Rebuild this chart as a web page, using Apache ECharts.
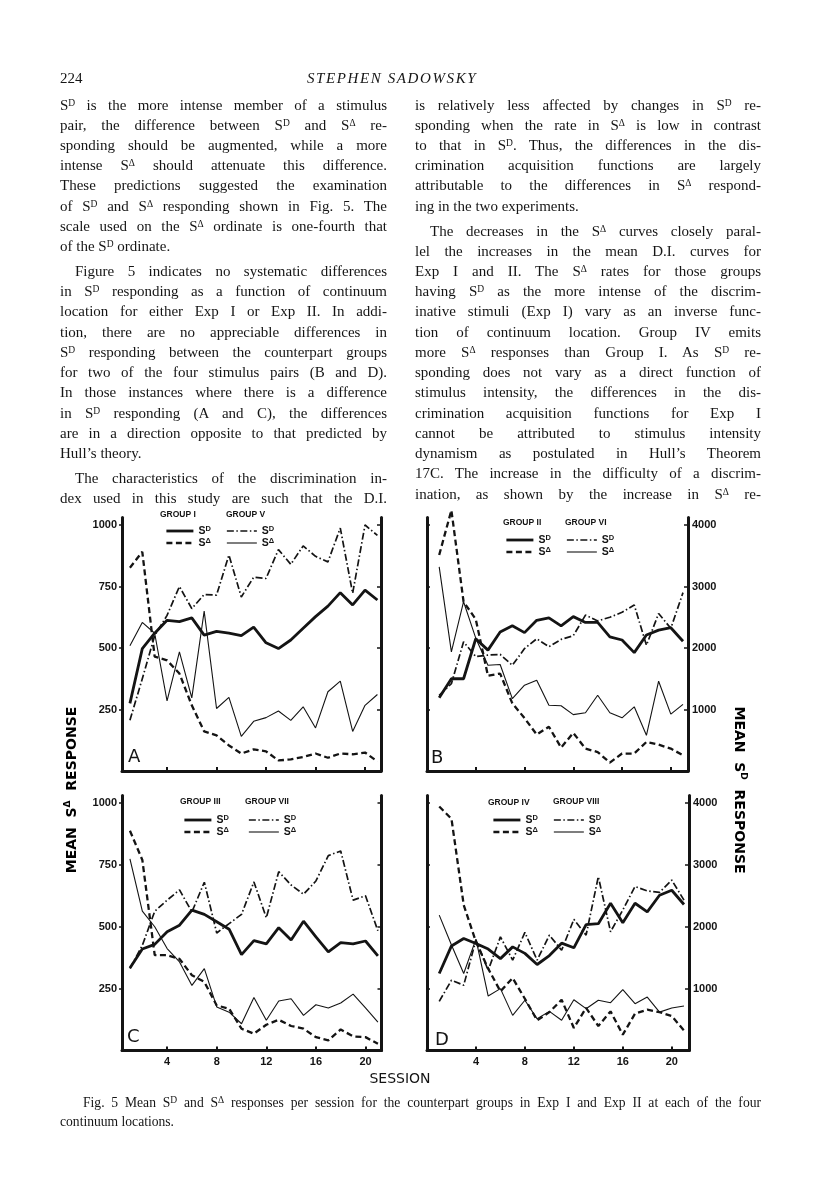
<!DOCTYPE html>
<html><head><meta charset="utf-8">
<script src="https://cdn.jsdelivr.net/npm/echarts@6/dist/echarts.min.js"></script>
<style>
body{margin:0;background:#fff;}
#page{position:relative;width:816px;height:1200px;overflow:hidden;background:#fff;}
#chart{position:absolute;left:0;top:0;width:816px;height:1200px;}
.t{position:absolute;font-family:"Liberation Serif","DejaVu Serif",serif;font-size:15px;line-height:20px;color:#151515;}
.j{text-align:justify;text-align-last:justify;}
.l{text-align:left;white-space:nowrap;}
.t sup{font-size:9.5px;vertical-align:4px;line-height:0;}
</style></head>
<body><div id="page"><div id="chart"></div><div id="txt"></div></div>
<script>
// ---------------- DATA ----------------
const sessions = [1,2,3,4,5,6,7,8,9,10,11,12,13,14,15,16,17,18,19,20,21];
const xTickValues = [4,8,12,16,20];
const sDeltaTicks = [250,500,750,1000];
const sDTicks = [1000,2000,3000,4000];

// Panel A : Group I (Exp I) and Group V (Exp II)
const A_I_SD = [1100,1990,2240,2450,2430,2490,2210,2270,2240,2200,2340,2085,1990,2130,2320,2510,2680,2900,2700,2940,2780];
const A_I_SA = [826,891,465,450,396,267,161,145,104,71,88,80,43,47,57,71,54,71,68,75,39];
const A_V_SD = [825,1500,2200,2530,3000,2640,2870,2860,3510,2830,3150,3130,3600,3360,3660,3490,3400,3950,2890,4000,3830];
const A_V_SA = [509,604,560,285,484,297,650,254,299,141,202,217,244,206,261,175,322,365,161,267,311];

// Panel B : Group II (Exp I) and Group VI (Exp II)
const B_II_SD = [1190,1500,1500,2150,1965,2260,2360,2250,2450,2490,2360,2510,2415,2415,2180,2130,1925,2210,2290,2330,2110];
const B_II_SA = [878,1060,688,617,387,396,275,215,148,180,95,155,91,77,34,71,71,118,107,91,64];
const B_VI_SD = [1230,1420,2100,1860,1885,1895,1720,1990,2150,2020,2140,2200,2535,2440,2500,2580,2700,2045,2560,2320,2900];
const B_VI_SA = [830,484,688,540,430,433,294,349,369,267,265,229,237,308,237,216,261,145,365,231,271];

// Panel C : Group III (Exp I) and Group VII (Exp II)
const C_III_SD = [1335,1640,1715,1920,2025,2270,2200,2080,1960,1550,1775,1725,1985,1785,2090,1835,1595,1745,1725,1770,1530];
const C_III_SA = [888,770,385,385,370,304,277,182,169,88,68,104,124,99,88,54,41,85,57,54,27];
const C_VII_SD = [1325,1700,2250,2430,2595,2240,2720,1900,2050,2200,2725,2145,2890,2675,2525,2740,3150,3225,2430,2500,1935];
const C_VII_SA = [774,563,500,412,358,263,331,176,155,108,214,122,200,209,142,185,172,192,228,172,115];

// Panel D : Group IV (Exp I) and Group VIII (Exp II)
const D_IV_SD = [1245,1690,1810,1730,1640,1485,1675,1570,1390,1535,1735,1660,2035,2050,2380,2065,2380,2240,2510,2590,2360];
const D_IV_SA = [986,936,588,439,331,239,293,209,122,155,205,91,172,99,158,64,149,165,155,139,81];
const D_VIII_SD = [795,1135,1055,1785,1297,1837,1460,1908,1460,1865,1620,2120,1865,2810,1920,2270,2650,2580,2555,2755,2430];
const D_VIII_SA = [547,426,311,450,220,250,142,203,128,158,122,205,169,203,193,246,189,216,155,172,180];

// ---------------- PAGE TEXT ----------------
const leftLines = [
 [105,'j',0,'S{D} is the more intense member of a stimulus'],
 [125,'j',0,'pair, the difference between S{D} and S{A} re-'],
 [145,'j',0,'sponding should be augmented, while a more'],
 [165,'j',0,'intense S{A} should attenuate this difference.'],
 [185,'j',0,'These predictions suggested the examination'],
 [206,'j',0,'of S{D} and S{A} responding shown in Fig. 5. The'],
 [226,'j',0,'scale used on the S{A} ordinate is one-fourth that'],
 [246,'l',0,'of the S{D} ordinate.'],
 [271,'j',15,'Figure 5 indicates no systematic differences'],
 [291,'j',0,'in S{D} responding as a function of continuum'],
 [311,'j',0,'location for either Exp I or Exp II. In addi-'],
 [332,'j',0,'tion, there are no appreciable differences in'],
 [352,'j',0,'S{D} responding between the counterpart groups'],
 [372,'j',0,'for two of the four stimulus pairs (B and D).'],
 [392,'j',0,'In those instances where there is a difference'],
 [413,'j',0,'in S{D} responding (A and C), the differences'],
 [433,'j',0,'are in a direction opposite to that predicted by'],
 [453,'l',0,'Hull\u2019s theory.'],
 [478,'j',15,'The characteristics of the discrimination in-'],
 [498,'j',0,'dex used in this study are such that the D.I.']
];
const rightLines = [
 [105,'j',0,'is relatively less affected by changes in S{D} re-'],
 [125,'j',0,'sponding when the rate in S{A} is low in contrast'],
 [145,'j',0,'to that in S{D}. Thus, the differences in the dis-'],
 [165,'j',0,'crimination acquisition functions are largely'],
 [185,'j',0,'attributable to the differences in S{A} respond-'],
 [206,'l',0,'ing in the two experiments.'],
 [231,'j',15,'The decreases in the S{A} curves closely paral-'],
 [251,'j',0,'lel the increases in the mean D.I. curves for'],
 [271,'j',0,'Exp I and II. The S{A} rates for those groups'],
 [291,'j',0,'having S{D} as the more intense of the discrim-'],
 [311,'j',0,'inative stimuli (Exp I) vary as an inverse func-'],
 [332,'j',0,'tion of continuum location. Group IV emits'],
 [352,'j',0,'more S{A} responses than Group I. As S{D} re-'],
 [372,'j',0,'sponding does not vary as a direct function of'],
 [392,'j',0,'stimulus intensity, the differences in the dis-'],
 [413,'j',0,'crimination acquisition functions for Exp I'],
 [433,'j',0,'cannot be attributed to stimulus intensity'],
 [453,'j',0,'dynamism as postulated in Hull\u2019s Theorem'],
 [473,'j',0,'17C. The increase in the difficulty of a discrim-'],
 [494,'j',0,'ination, as shown by the increase in S{A} re-']
];
function fmt(s){return s.replace(/\{D\}/g,'<sup>D</sup>').replace(/\{A\}/g,'<sup>\u0394</sup>');}
let html='';
function addCol(lines,left,width){
  lines.forEach(([y,cls,ind,s])=>{
    html+=`<div class="t ${cls}" style="left:${left+ind}px;top:${y-10}px;width:${width-ind}px">${fmt(s)}</div>`;
  });
}
addCol(leftLines,60,327);
addCol(rightLines,415,346);
html+=`<div class="t l" style="left:60px;top:68px">224</div>`;
html+=`<div class="t l" style="left:307px;top:68px;font-style:italic;letter-spacing:1.6px">STEPHEN SADOWSKY</div>`;
html+=`<div class="t j" style="left:83px;top:1093px;width:678px;font-size:13.6px">${fmt('Fig. 5 Mean S{D} and S{A} responses per session for the counterpart groups in Exp I and Exp II at each of the four')}</div>`;
html+=`<div class="t l" style="left:60px;top:1112px;font-size:13.6px">continuum locations.</div>`;
document.getElementById('txt').innerHTML=html;

// ---------------- CHART ----------------
const INK='#141414';
const styles = {
  e1SD:{width:2.8,type:'solid'},
  e1SA:{width:2.3,type:[6,3.5]},
  e2SD:{width:1.7,type:[7,2.5,1.5,2.5]},
  e2SA:{width:1.1,type:'solid'}
};
const panels = [
 {letter:'A', lp:[128,757], grid:{left:122,top:517.6,width:259,height:253.4}, xr:[0.36,21.29], leftLab:true, rightLab:false, botLab:false,
  g:[{title:'GROUP I',tx:160,ty:515,lx:165,ly:524.5,sd:A_I_SD,sa:A_I_SA,e:1},
     {title:'GROUP V',tx:226,ty:515,lx:226,ly:524.5,sd:A_V_SD,sa:A_V_SA,e:2}]},
 {letter:'B', lp:[431,758], grid:{left:427,top:517.6,width:261,height:253.4}, xr:[0,21.41], leftLab:false, rightLab:true, botLab:false,
  g:[{title:'GROUP II',tx:503,ty:523,lx:505,ly:533.5,sd:B_II_SD,sa:B_II_SA,e:1},
     {title:'GROUP VI',tx:565,ty:523,lx:566,ly:533.5,sd:B_VI_SD,sa:B_VI_SA,e:2}]},
 {letter:'C', lp:[127,1037], grid:{left:122,top:795.6,width:259.5,height:254.9}, xr:[0.36,21.29], leftLab:true, rightLab:false, botLab:true,
  g:[{title:'GROUP III',tx:180,ty:802,lx:183,ly:813.5,sd:C_III_SD,sa:C_III_SA,e:1},
     {title:'GROUP VII',tx:245,ty:802,lx:248,ly:813.5,sd:C_VII_SD,sa:C_VII_SA,e:2}]},
 {letter:'D', lp:[435,1040], grid:{left:427,top:795.6,width:262,height:254.9}, xr:[0,21.41], leftLab:false, rightLab:true, botLab:true,
  g:[{title:'GROUP IV',tx:488,ty:803,lx:492,ly:813.5,sd:D_IV_SD,sa:D_IV_SA,e:1},
     {title:'GROUP VIII',tx:553,ty:802,lx:553,ly:813.5,sd:D_VIII_SD,sa:D_VIII_SA,e:2}]}
];
const plain = v => String(Math.round(v));
const labelFont={color:INK,fontFamily:'Liberation Sans',fontWeight:'bold',fontSize:11,formatter:plain};
const option={animation:false,backgroundColor:'transparent',grid:[],xAxis:[],yAxis:[],series:[],legend:[],graphic:[]};
const pts = vals => sessions.map((s,i)=>[s,vals[i]]);
panels.forEach((p,i)=>{
  option.grid.push(Object.assign({containLabel:false},p.grid));
  option.xAxis.push({gridIndex:i,type:'value',min:p.xr[0],max:p.xr[1],
    axisLine:{show:true,onZero:false,lineStyle:{color:INK,width:3}},
    axisTick:{show:true,inside:true,length:4,customValues:xTickValues,lineStyle:{color:INK,width:2}},
    axisLabel:Object.assign({show:p.botLab,customValues:xTickValues,margin:6},labelFont),
    splitLine:{show:false}});
  option.yAxis.push({gridIndex:i,type:'value',position:'left',min:0,max:1030,
    axisLine:{show:true,onZero:false,lineStyle:{color:INK,width:3}},
    axisTick:{show:true,inside:!p.leftLab,length:3,customValues:sDeltaTicks,lineStyle:{color:INK,width:1.5}},
    axisLabel:Object.assign({show:p.leftLab,customValues:sDeltaTicks,margin:5},labelFont),
    splitLine:{show:false}});
  option.yAxis.push({gridIndex:i,type:'value',position:'right',min:0,max:4120,
    axisLine:{show:true,onZero:false,lineStyle:{color:INK,width:3}},
    axisTick:{show:true,inside:true,length:4,customValues:sDTicks,lineStyle:{color:INK,width:1.5}},
    axisLabel:Object.assign({show:p.rightLab,customValues:sDTicks,margin:4},labelFont),
    splitLine:{show:false}});
  p.g.forEach((g,k)=>{
    const base=p.letter+'_'+g.title.replace('GROUP ','');
    const nSD=base+'_SD', nSA=base+'_SA';
    const stSD=g.e===1?styles.e1SD:styles.e2SD, stSA=g.e===1?styles.e1SA:styles.e2SA;
    option.series.push({name:nSD,type:'line',xAxisIndex:i,yAxisIndex:2*i+1,data:pts(g.sd),symbol:'none',clip:false,
      lineStyle:{color:INK,width:stSD.width,type:stSD.type},itemStyle:{color:INK},z:g.e===1?4:3});
    option.series.push({name:nSA,type:'line',xAxisIndex:i,yAxisIndex:2*i,data:pts(g.sa),symbol:'none',clip:false,
      lineStyle:{color:INK,width:stSA.width,type:stSA.type},itemStyle:{color:INK},z:g.e===1?4:3});
    const hide={opacity:0,color:'transparent',borderWidth:0};
    option.legend.push({data:[
        {name:nSD,itemStyle:hide,lineStyle:{color:INK,width:stSD.width,type:stSD.type}},
        {name:nSA,itemStyle:hide,lineStyle:{color:INK,width:stSA.width,type:stSA.type}}],
      orient:'vertical',left:g.lx,top:g.ly,padding:0,itemGap:0,
      itemWidth:g.e===1?27:30,itemHeight:13,selectedMode:false,
      itemStyle:hide,
      formatter:n=>n.endsWith('_SD')?'{s|S}{d|D}':'{s|S}{d|\u0394}',
      textStyle:{color:INK,rich:{s:{fontFamily:'Liberation Sans',fontWeight:'bold',fontSize:10.5,lineHeight:13,color:INK},
        d:{fontFamily:'Liberation Sans',fontWeight:'bold',fontSize:7.5,lineHeight:8,verticalAlign:'top',color:INK}}}});
    option.graphic.push({type:'text',x:g.tx,y:g.ty,silent:true,
      style:{text:g.title,fill:INK,font:'bold 8.5px "Liberation Sans"',align:'left',verticalAlign:'middle'}});
  });
  option.graphic.push({type:'text',x:p.lp[0],y:p.lp[1],silent:true,
    style:{text:p.letter,fill:INK,font:'18px "DejaVu Sans"',align:'left',verticalAlign:'middle'}});
});
option.graphic.push({type:'text',x:400,y:1079,silent:true,
  style:{text:'SESSION',fill:INK,font:'14px "DejaVu Sans"',align:'center',verticalAlign:'middle'}});
const titleRich={a:{fontFamily:'DejaVu Sans',fontWeight:'bold',fontSize:14,lineHeight:18,color:INK},
                 b:{fontFamily:'DejaVu Sans',fontWeight:'bold',fontSize:9,lineHeight:10,verticalAlign:'top',color:INK}};
option.graphic.push({type:'text',x:72,y:790,rotation:Math.PI/2,silent:true,
  style:{text:'{a|MEAN  S}{b|\u0394}{a|  RESPONSE}',rich:titleRich,align:'center',verticalAlign:'middle'}});
option.graphic.push({type:'text',x:739,y:790,rotation:-Math.PI/2,silent:true,
  style:{text:'{a|MEAN  S}{b|D}{a|  RESPONSE}',rich:titleRich,align:'center',verticalAlign:'middle'}});

const chart=echarts.init(document.getElementById('chart'),null,{renderer:'canvas'});
chart.setOption(option);
</script></body></html>
